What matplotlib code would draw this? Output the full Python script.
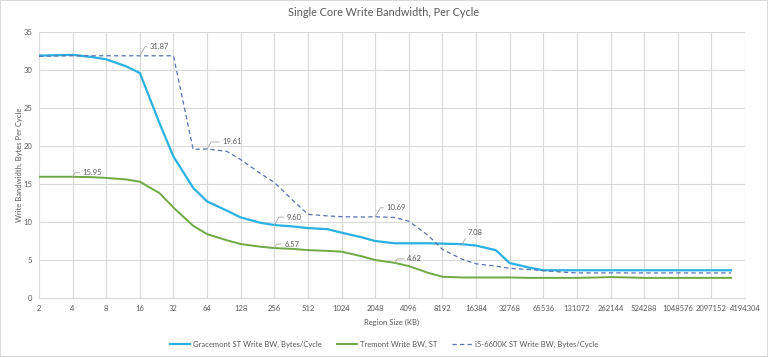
import matplotlib.pyplot as plt
import matplotlib.ticker as mticker

plt.rcParams["font.family"] = ["Lato", "DejaVu Sans"]

# region sizes in KB (2^n and 1.5 * 2^n)
sizes = [2, 3, 4, 6, 8, 12, 16, 24, 32, 48, 64, 96, 128, 192, 256, 384, 512, 768,
         1024, 1536, 2048, 3072, 4096, 6144, 8192, 12288, 16384, 24576, 32768, 49152,
         65536, 98304, 131072, 196608, 262144, 393216, 524288, 786432, 1048576,
         1572864, 2097152, 3145728]

gracemont = [31.9, 31.95, 32.0, 31.7, 31.4, 30.5, 29.6, 23.0, 18.6, 14.5, 12.7, 11.5,
             10.6, 9.9, 9.6, 9.4, 9.2, 9.05, 8.6, 8.0, 7.5, 7.2, 7.2, 7.2, 7.15, 7.08,
             6.9, 6.3, 4.6, 4.0, 3.65, 3.65, 3.65, 3.65, 3.65, 3.65, 3.65, 3.65, 3.65,
             3.65, 3.65, 3.65]

tremont = [15.95, 15.95, 15.95, 15.9, 15.8, 15.6, 15.3, 13.8, 11.9, 9.5, 8.4, 7.6,
           7.1, 6.75, 6.57, 6.45, 6.3, 6.2, 6.1, 5.5, 5.0, 4.62, 4.2, 3.3, 2.8, 2.7,
           2.7, 2.7, 2.7, 2.65, 2.65, 2.65, 2.65, 2.7, 2.75, 2.7, 2.65, 2.65, 2.65,
           2.65, 2.65, 2.65]

skylake = [31.8, 31.85, 31.87, 31.87, 31.87, 31.87, 31.87, 31.87, 31.87, 19.55, 19.61,
           19.3, 18.2, 16.4, 15.2, 12.7, 11.0, 10.8, 10.7, 10.65, 10.69, 10.6, 10.1,
           8.2, 6.4, 5.1, 4.5, 4.2, 3.9, 3.75, 3.6, 3.4, 3.3, 3.3, 3.3, 3.3, 3.3, 3.3,
           3.3, 3.3, 3.3, 3.3]

# (size, value, text offset in pixels)
labels = [
    (16, 31.87, (10, 9)),
    (64, 19.61, (15, 7)),
    (4, 15.95, (10, 4)),
    (256, 9.60, (12, 8)),
    (256, 6.57, (10, 4)),
    (2048, 10.69, (11, 9)),
    (3072, 4.62, (12, 4)),
    (12288, 7.08, (5, 12)),
]

blue = "#29b1e2"
green = "#70a845"
slate = "#5a72ad"
grid = "#d9d9d9"
txt = "#595959"
fs = 5.5

fig = plt.figure(figsize=(7.68, 3.57), dpi=100, linewidth=1.2, edgecolor=grid)
ax = fig.add_axes([39 / 768, 59 / 357, 706 / 768, 266 / 357])

ax.plot(sizes, gracemont, color=blue, lw=1.6, label="Gracemont ST Write BW, Bytes/Cycle")
ax.plot(sizes, tremont, color=green, lw=1.4, label="Tremont Write BW, ST")
ax.plot(sizes, skylake, color=slate, lw=0.9, ls=(0, (3.5, 2.5)),
        label="i5-6600K ST Write BW, Bytes/Cycle")

for x, y, off in labels:
    ax.annotate(f"{y:.2f}", xy=(x, y), xytext=off, textcoords="offset pixels",
                fontsize=fs, color=txt, va="center", ha="left",
                arrowprops=dict(arrowstyle="-", color="#a6a6a6", lw=0.6,
                                shrinkA=0, shrinkB=0,
                                connectionstyle="angle,angleA=0,angleB=60,rad=0"))

ax.set_xscale("log", base=2)
ax.set_xlim(2, 4194304)
ax.set_xticks([2 ** n for n in range(1, 23)])
ax.xaxis.set_major_formatter(mticker.FuncFormatter(lambda v, p: f"{int(round(v))}"))
ax.xaxis.set_minor_locator(mticker.NullLocator())
ax.set_ylim(0, 35)
ax.set_yticks(range(0, 36, 5))

ax.grid(True, color=grid, lw=0.8)
ax.set_axisbelow(True)
for s in ["top", "right", "left"]:
    ax.spines[s].set_visible(False)
ax.spines["bottom"].set_color(grid)
ax.tick_params(length=0, labelsize=fs, labelcolor=txt, pad=5)

ax.set_xlabel("Region Size (KB)", fontsize=fs, color=txt, labelpad=5)
ax.set_ylabel("Write Bandwidth, Bytes Per Cycle", fontsize=fs, color=txt, labelpad=0)
fig.suptitle("Single Core Write Bandwidth, Per Cycle", y=1 - 13 / 357, fontsize=7.8,
             color=txt, va="center")

fig.legend(loc="center", bbox_to_anchor=(0.5, 1 - 344 / 357), ncol=3, frameon=False,
           fontsize=fs, labelcolor=txt, handlelength=2.7, columnspacing=2.0,
           handletextpad=0.3)

fig.savefig("out.png", dpi=100)
